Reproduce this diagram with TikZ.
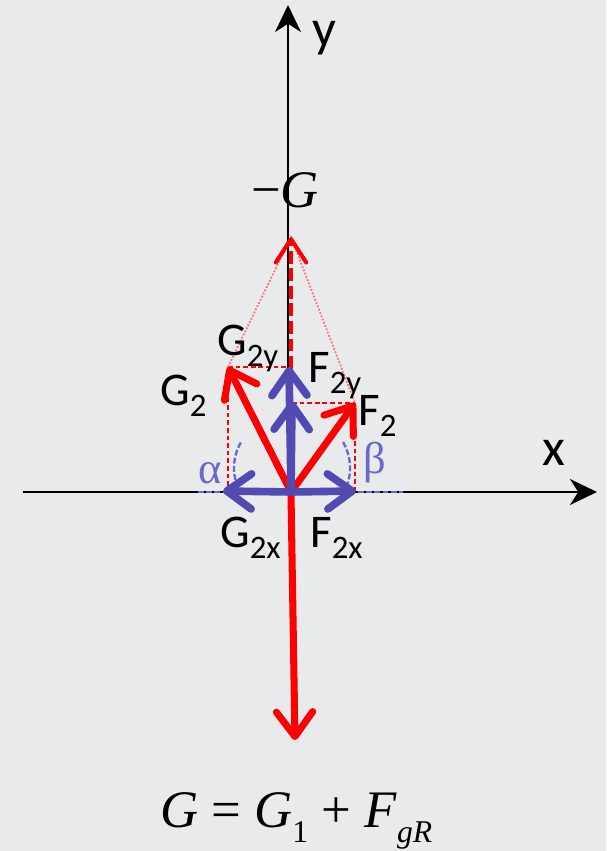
\documentclass[tikz,border=0pt]{standalone}
\usepackage{fontspec}
\setmainfont{Carlito}
\newfontfamily\timesf{Liberation Serif}
\usepackage{xcolor}
\usetikzlibrary{arrows.meta}

\definecolor{bgcol}{RGB}{233,234,236}
\definecolor{vred}{RGB}{255,0,0}
\definecolor{pred}{RGB}{255,110,110}
\definecolor{vblue}{RGB}{80,74,178}
\definecolor{angblue}{RGB}{105,105,200}

\newcommand{\sbs}[1]{\raisebox{-10pt}{\fontsize{28}{28}\selectfont #1}}
\newcommand{\sbt}[1]{\raisebox{-13pt}{\fontsize{27}{27}\selectfont\itshape #1}}

\tikzset{
  axis/.style={line width=2.5pt, -{Stealth[length=23pt,width=22pt,inset=7pt]}},
  redvec/.style={line width=6pt, vred, -{Straight Barb[length=21pt,width=31pt,round]}},
  bluevec/.style={line width=6.5pt, vblue, -{Straight Barb[length=21pt,width=30pt,round]}},
  helper/.style={line width=1.3pt, vred, dash pattern=on 4pt off 2.5pt},
  anglearc/.style={line width=2pt, angblue, dash pattern=on 5pt off 2pt},
  lbl/.style={inner sep=0pt, anchor=base west, font=\fontsize{40}{40}\selectfont},
  axlbl/.style={inner sep=0pt, anchor=base west, font=\fontsize{45}{45}\selectfont},
  greek/.style={inner sep=0pt, anchor=base west, angblue, font=\timesf\fontsize{38}{38}\selectfont}
}

\begin{document}
\begin{tikzpicture}[x=0.03cm, y=0.03cm]
    \useasboundingbox[fill=bgcol] (0,0) rectangle (606,-851);

    % Points
    \coordinate (O) at (291,-492);
    \coordinate (G2) at (228,-367);
    \coordinate (F2) at (355,-403);
    \coordinate (mG) at (291,-237);
    \coordinate (G2y) at (289,-367);
    \coordinate (F2y) at (292,-401);
    \coordinate (G2x) at (223,-491);
    \coordinate (F2x) at (356,-491);
    \coordinate (G) at (295,-740);

    % Axes
    \draw [axis] (23,-492) coordinate (xstart) -- (597,-492) coordinate (xend);
    \draw [axis] (288,-492) coordinate (ystart) -- (288,-5) coordinate (yend);
    \node [axlbl] (xlbl) at (542,-465) {x};
    \node [axlbl] (ylbl) at (312,-47) {y};

    % Components of G2 and F2
    \draw [helper] (G2) -- (288,-367);
    \draw [helper] (G2) -- (228,-492);
    \draw [helper] (292,-403) -- (F2);
    \draw [helper] (F2) -- (355,-492);

    % Parallelogram
    \draw [pred, line width=1.5pt, dash pattern=on 1.5pt off 1.5pt] (G2) -- (mG) -- (F2);

    % Angles
    \draw [anglearc] (198,-492) -- (223,-492);
    \draw [anglearc] (358,-492) -- (403,-492);
    \draw [anglearc] ([shift={(150:51)}]285,-468) arc (150:205:51);
    \draw [anglearc] ([shift={(30:52)}]298,-468) arc (30:-25:52);
    \node [greek] (alpha) at (198,-483) {α};
    \node [greek] (beta) at (363,-473) {β};

    % Forces
    \draw [vred, line width=3.5pt, dash pattern=on 11pt off 4pt,
        -{Straight Barb[length=20pt,width=26pt,round]}] (O) -- (mG);
    \draw [redvec] (O) -- (G2);
    \draw [redvec] (O) -- (F2);
    \draw [redvec] (291,-494) -- (G);

    \draw [bluevec] (O) -- (G2y);
    \draw [bluevec] (O) -- (F2y);
    \draw [bluevec] (O) -- (G2x);
    \draw [bluevec] (O) -- (F2x);

    % Labels
    \node [lbl] (lG2) at (160,-405) {G\sbs{2}};
    \node [lbl] (lF2) at (358,-425) {F\sbs{2}};
    \node [lbl] (lG2y) at (217,-355) {G\sbs{2y}};
    \node [lbl] (lF2y) at (308,-382) {F\sbs{2y}};
    \node [lbl] (lG2x) at (220,-547) {G\sbs{2x}};
    \node [lbl] (lF2x) at (310,-547) {F\sbs{2x}};

    \node [inner sep=0pt, anchor=base west, font=\timesf\fontsize{45}{45}\selectfont]
        (mGlbl) at (251,-208) {−\textit{G}};
    \node [inner sep=0pt, anchor=base west, font=\timesf\fontsize{45}{45}\selectfont]
        (eq) at (160,-827) {\textit{G} = \textit{G}\sbt{\upshape 1} + \textit{F}\sbt{gR}};
\end{tikzpicture}
\end{document}
